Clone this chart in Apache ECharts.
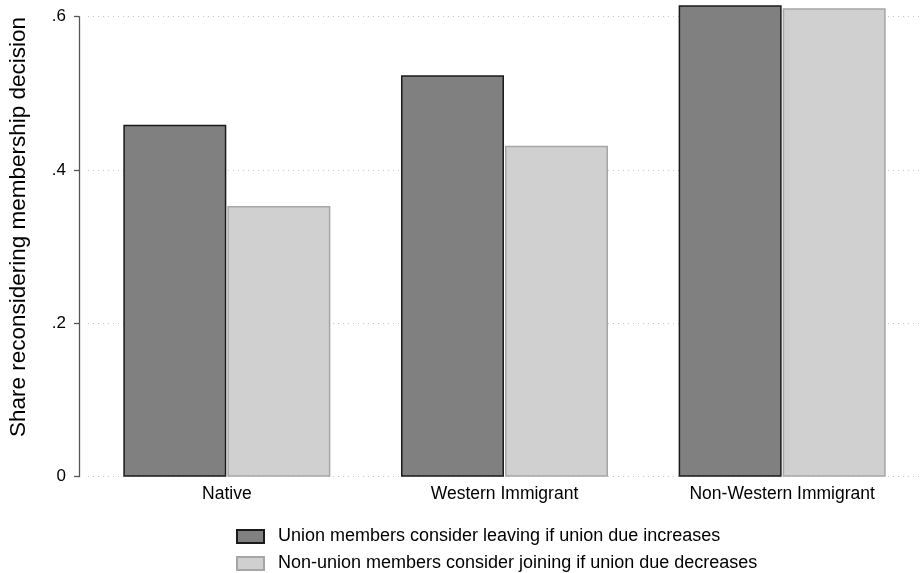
<!DOCTYPE html>
<html>
<head>
<meta charset="utf-8">
<script src="https://cdn.jsdelivr.net/npm/echarts@6/dist/echarts.min.js"></script>
<style>html,body{margin:0;padding:0;background:#fff;}#c{width:923px;height:573px;}</style>
</head>
<body>
<div id="c"></div>
<script>
var categories = ['Native', 'Western Immigrant', 'Non-Western Immigrant'];
var seriesNames = ['Union members consider leaving if union due increases', 'Non-union members consider joining if union due decreases'];
var leavingValues = [0.459, 0.5235, 0.615];
var joiningValues = [0.353, 0.4317, 0.611];
var yTicks = [0, 0.2, 0.4, 0.6];
var yTitle = 'Share reconsidering membership decision';

var FONT = 'Liberation Sans, Arial, sans-serif';
var chart = echarts.init(document.getElementById('c'), null, {renderer: 'canvas'});
function legendFor(name, top) {
  return {
    orient: 'vertical',
    left: 236, top: top,
    icon: 'rect',
    itemWidth: 27, itemHeight: 13, itemGap: 0,
    padding: 0,
    textStyle: {color: '#000', fontFamily: FONT, fontSize: 18, padding: [0, 0, 0, 9]},
    data: [name]
  };
}
chart.setOption({
  animation: false,
  backgroundColor: '#fff',
  grid: {left: 88, right: 2, top: 16.7, bottom: 96.3, containLabel: false},
  graphic: [{
    type: 'text',
    x: 19, y: 227,
    rotation: Math.PI / 2,
    style: {text: yTitle, fill: '#000', font: '22.5px ' + FONT, textAlign: 'center', textVerticalAlign: 'middle'}
  }],
  xAxis: {
    type: 'category',
    data: categories,
    axisLine: {show: false},
    axisTick: {show: false},
    axisLabel: {color: '#000', fontFamily: FONT, fontSize: 17.5, margin: 8}
  },
  yAxis: {
    type: 'value',
    min: yTicks[0], max: yTicks[yTicks.length - 1], interval: 0.2,
    offset: 9,
    axisLine: {show: true, lineStyle: {color: '#555', width: 1.3}},
    axisTick: {show: true, length: 5, lineStyle: {color: '#555', width: 1.3}},
    axisLabel: {color: '#000', fontFamily: FONT, fontSize: 17, margin: 13,
      formatter: function (v) { return v === 0 ? '0' : v.toFixed(1).replace(/^0/, ''); }},
    splitLine: {show: true, lineStyle: {color: '#c8c8c8', width: 1, type: [1, 4]}}
  },
  legend: [legendFor(seriesNames[0], 527.5), legendFor(seriesNames[1], 554.5)],
  series: [
    {
      name: seriesNames[0], type: 'bar', data: leavingValues, clip: false,
      barWidth: 103, barGap: '1%',
      itemStyle: {color: '#808080', borderColor: '#1a1a1a', borderWidth: 1.5}
    },
    {
      name: seriesNames[1], type: 'bar', data: joiningValues, clip: false,
      barWidth: 103, barGap: '1%',
      itemStyle: {color: '#d0d0d0', borderColor: '#a6a6a6', borderWidth: 1.5}
    }
  ]
});
</script>
</body>
</html>
